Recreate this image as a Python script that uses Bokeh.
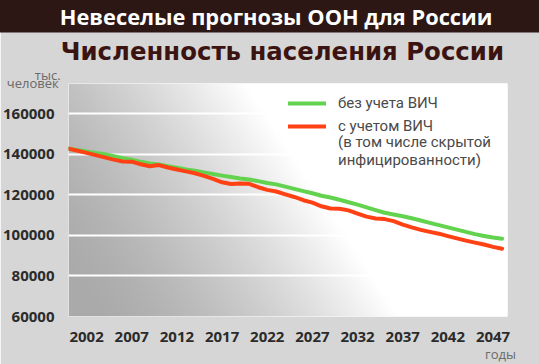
import numpy as np
from bokeh.plotting import figure
from bokeh.models import Range1d, FixedTicker, Legend, LegendItem, NumeralTickFormatter, Title
from bokeh.core.properties import value
from bokeh.embed import file_html
from bokeh.resources import INLINE

# ---------------- data ----------------
years = list(range(2000, 2049))
without_hiv = [142700, 142000, 141300, 140600, 139900, 139000, 138000, 137300, 136200, 135400,
               134900, 134100, 133300, 132500, 131800, 131000, 130200, 129400, 128700, 128000,
               127500, 126700, 125800, 125100, 124000, 122900, 121800, 120700, 119500, 118600,
               117500, 116300, 115100, 113800, 112400, 111100, 110300, 109400, 108400, 107300,
               106100, 105000, 103900, 102800, 101700, 100600, 99700, 98900, 98300]
with_hiv = [142700, 141700, 140600, 139500, 138400, 137300, 136400, 136300, 135000, 134000,
            134600, 133400, 132400, 131500, 130600, 129300, 127800, 126100, 125300, 125500,
            125400, 123700, 122400, 121600, 120200, 118900, 117300, 116100, 114300, 113200,
            113100, 112300, 110700, 109200, 108300, 108000, 107000, 105300, 103900, 102700,
            101700, 100800, 99600, 98500, 97400, 96400, 95500, 94300, 93400]
x_ticks = [2002, 2007, 2012, 2017, 2022, 2027, 2032, 2037, 2042, 2047]
y_ticks = [60000, 80000, 100000, 120000, 140000, 160000]

title_top = "Невеселые прогнозы ООН для России"
title_main = "Численность населения России"
label_without = "без учета ВИЧ"
label_with = "с учетом ВИЧ"
label_note = "(в том числе скрытой\nинфицированности)"
y_unit_1 = "тыс."
y_unit_2 = "человек"
x_unit = "годы"

GREEN = "#63d34f"
RED = "#ff4114"
X0, X1 = 2000.0, 2048.6
Y0, Y1 = 60000, 174800

p = figure(width=539, height=364, output_backend="svg", toolbar_location=None, title=None,
           x_range=Range1d(X0, X1), y_range=Range1d(Y0, Y1),
           min_border_left=67, min_border_right=32, min_border_top=0, min_border_bottom=48,
           background_fill_color="white", border_fill_color="#d6d6d6", outline_line_color=None)

# background gradient of the plotting area (grey lower-left -> white upper-right)
ny, nx = 90, 180
gx, gy = np.meshgrid(np.linspace(0, 1, nx), np.linspace(0, 1, ny))
t = np.clip((gx + 0.35 * gy - 0.05) / 0.70, 0, 1)
g = (170 + 85 * t ** 1.5).astype(np.uint32)
img = (np.uint32(255) << 24) | (g << 16) | (g << 8) | g
img_r = p.image_rgba(image=[img.astype(np.uint32)], x=X0, y=Y0, dw=X1 - X0, dh=Y1 - Y0)
img_r.level = "image"

# grid
p.xgrid.visible = False
p.ygrid.ticker = FixedTicker(ticks=y_ticks)
p.ygrid.grid_line_color = "white"
p.ygrid.grid_line_width = 2

# axes
for ax in (p.xaxis[0], p.yaxis[0]):
    ax.axis_line_color = None
    ax.major_tick_line_color = None
    ax.minor_tick_line_color = None
    ax.major_label_text_font = "Open Sans"
    ax.major_label_text_font_style = "bold"
    ax.major_label_text_font_size = "15px"
    ax.major_label_text_color = "#2b2b2b"
p.xaxis.ticker = FixedTicker(ticks=x_ticks)
p.yaxis.ticker = FixedTicker(ticks=y_ticks)
p.yaxis.formatter = NumeralTickFormatter(format="0")
p.yaxis.major_label_standoff = 8
p.xaxis.major_label_standoff = 9

# lines
r_g = p.line(years, without_hiv, line_color=GREEN, line_width=4, line_join="round", line_cap="round")
r_r = p.line(years, with_hiv, line_color=RED, line_width=4, line_join="round", line_cap="round")
dummy = p.line(x=[], y=[], line_alpha=0)

legend_style = dict(padding=0, margin=0, glyph_width=38, glyph_height=16, label_height=16,
                    label_standoff=12, label_text_font="Roboto", label_text_font_size="15px",
                    label_text_color="#4a4a4a", border_line_alpha=0, background_fill_alpha=0)
p.add_layout(Legend(items=[LegendItem(label=value(label_without), renderers=[r_g]),
                           LegendItem(label=value(label_with), renderers=[r_r])],
                    location=(220, 180.6), spacing=5, **legend_style))
p.add_layout(Legend(items=[LegendItem(label=value(label_note), renderers=[dummy])],
                    location=(220, 147), spacing=0, label_text_line_height=0.82, **legend_style))

# texts outside the plotting area (titles in the side panels, closest to the frame first)
unit_style = dict(align="left", text_font="Open Sans", text_font_size="13px",
                  text_font_style="normal", text_color="#6a6a6a")
p.add_layout(Title(text=y_unit_2, offset=-61.7, vertical_align="top", standoff=-19.7, **unit_style), "above")
p.add_layout(Title(text=y_unit_1, offset=-33.7, vertical_align="middle", standoff=-3.1, **unit_style), "above")
p.add_layout(Title(text=title_main, align="left", offset=-7.7, vertical_align="bottom", standoff=2,
                   text_font="DejaVu Sans", text_font_size="24.4px", text_font_style="bold",
                   text_color="#3b1411"), "above")
p.add_layout(Title(text=title_top, align="left", offset=-108.7, vertical_align="top", standoff=-2,
                   text_font="Open Sans", text_font_size="21.8px", text_font_style="bold",
                   text_color="white", background_fill_color="#2c1714", padding=(100, 2)), "above")
p.add_layout(Title(text=x_unit, align="right", offset=-8.5, vertical_align="top", standoff=0,
                   text_font="Open Sans", text_font_size="13px", text_font_style="normal",
                   text_color="#6a6a6a"), "below")

open("out.html", "w").write(file_html(p, INLINE))
